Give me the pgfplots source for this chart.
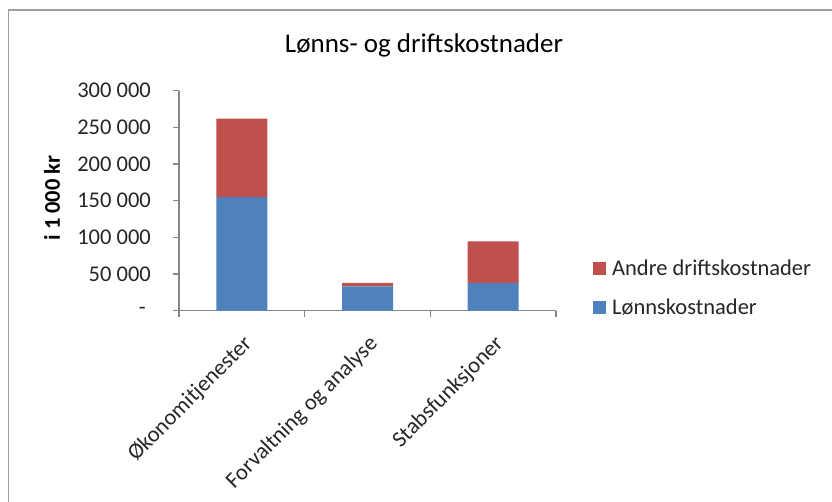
\documentclass[border=0pt]{standalone}
\usepackage{pgfplots}
\pgfplotsset{compat=1.18}
\usepackage{fontspec}
\setmainfont{Carlito}
\definecolor{xblue}{HTML}{4F81BD}
\definecolor{xred}{HTML}{C0504D}
\definecolor{axgray}{HTML}{868686}
\definecolor{txt}{HTML}{262626}
\newcommand{\fs}{\fontsize{22.5bp}{27bp}\selectfont}
\begin{document}
\begin{tikzpicture}[x=1bp,y=1bp]
\path[use as bounding box] (0,0) rectangle (832,502);
\draw[axgray!80, line width=1.8bp] (8.5,0) -- (8.5,492) -- (832,492);
\node[anchor=base, font=\fontsize{27bp}{32bp}\selectfont, text=black] at (424,449) {Lønns- og driftskostnader};
\node[rotate=90, font=\fs\bfseries, text=black] at (52,304) {i 1 000 kr};
\begin{axis}[
  at={(179bp,191.3bp)}, anchor=south west,
  scale only axis, width=377bp, height=220bp,
  ybar stacked, bar width=51bp,
  xmin=-0.5, xmax=2.5, ymin=0, ymax=300000,
  scaled y ticks=false,
  axis lines*=left,
  axis line style={axgray, line width=1.3bp},
  every tick/.style={axgray, line width=1.3bp},
  tick align=outside, major tick length=6bp,
  xtick={-0.5,0.5,1.5,2.5},
  x tick label as interval,
  xticklabels={Økonomitjenester, Forvaltning og analyse, Stabsfunksjoner},
  xticklabel style={rotate=45, anchor=north east, font=\fs, text=txt, inner sep=0pt, xshift=-12bp, yshift=-12bp},
  ytick={0,50000,100000,150000,200000,250000,300000},
  yticklabels={{-\kern5bp}, 50 000, 100 000, 150 000, 200 000, 250 000, 300 000},
  yticklabel style={font=\fs, text=txt, anchor=east, inner sep=0pt, xshift=-22bp},
  legend style={at={(1.098,0.105)}, anchor=west, draw=none, fill=none, font=\fs, text=txt, inner sep=0pt, row sep=18bp},
  legend cell align=left,
  reverse legend,
  legend image code/.code={\fill[#1] (0bp,-6.5bp) rectangle (13bp,6.5bp); \path (17bp,0bp);},
  clip=false,
]
\addplot[fill=xblue, draw=none] coordinates {(0,155000) (1,33000) (2,37500)};
\addplot[fill=xred, draw=none] coordinates {(0,107000) (1,5000) (2,57000)};
\legend{Lønnskostnader, Andre driftskostnader}
\end{axis}
\end{tikzpicture}
\end{document}
